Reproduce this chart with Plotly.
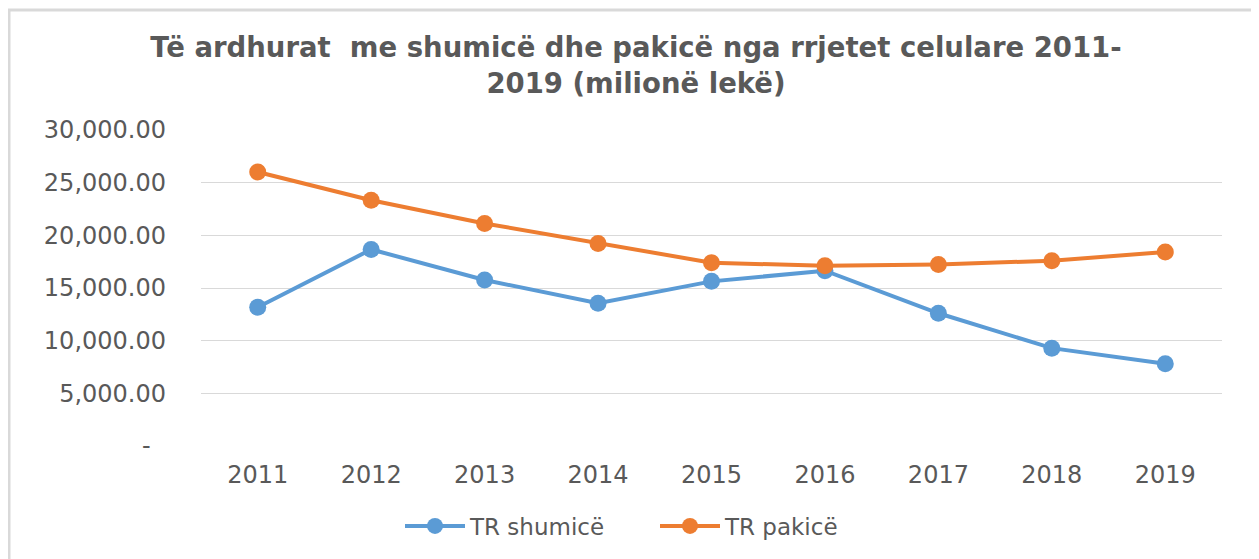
import plotly.graph_objects as go

years = ["2011", "2012", "2013", "2014", "2015", "2016", "2017", "2018", "2019"]
tr_shumice = [13170, 18660, 15760, 13550, 15630, 16640, 12600, 9290, 7800]
tr_pakice = [26010, 23330, 21130, 19230, 17400, 17110, 17240, 17590, 18410]
y_tick_vals = [0, 5000, 10000, 15000, 20000, 25000, 30000]
y_tick_text = ["-\u00a0\u00a0", "5,000.00", "10,000.00", "15,000.00",
               "20,000.00", "25,000.00", "30,000.00"]

BLUE = "#5B9BD5"
ORANGE = "#ED7D31"
FONT = "DejaVu Sans"

fig = go.Figure()
fig.add_trace(go.Scatter(x=years, y=tr_shumice, name="TR shumicë", mode="lines+markers",
                         line=dict(color=BLUE, width=4), marker=dict(size=17, color=BLUE)))
fig.add_trace(go.Scatter(x=years, y=tr_pakice, name="TR pakicë", mode="lines+markers",
                         line=dict(color=ORANGE, width=4), marker=dict(size=17, color=ORANGE)))

# page body has an 8px margin: work in screen pixels, convert to figure pixels
OFF = 8
W, H = 1259, 559
L = 201 - OFF
T = 130 - OFF
R = W - (1222 - OFF)
B = H - (446 - OFF)
pw, ph = W - L - R, H - T - B

def px2paper_x(sx):
    return (sx - OFF - L) / pw

def px2paper_y(sy):
    return (H - B - (sy - OFF)) / ph

fig.update_layout(
    width=W, height=H,
    margin=dict(l=L, r=R, t=T, b=B),
    paper_bgcolor="white", plot_bgcolor="white",
    font=dict(family=FONT, color="#595959"),
    title=dict(text="<b>Të ardhurat  me shumicë dhe pakicë nga rrjetet celulare 2011-<br>2019 (milionë lekë)</b>",
               x=(636 - OFF) / W, xanchor="center", xref="container",
               y=1 - (65 - 2 * OFF) / H, yanchor="middle", yref="container",
               font=dict(family=FONT, size=27.5, color="#595959")),
    showlegend=True,
    legend=dict(orientation="h", x=px2paper_x(400), xanchor="left",
                y=px2paper_y(526), yanchor="middle",
                font=dict(family=FONT, size=23, color="#595959"),
                entrywidth=180, entrywidthmode="pixels",
                itemwidth=60, bgcolor="rgba(0,0,0,0)"),
    xaxis=dict(type="category", range=[-0.5, 8.5], showgrid=False, zeroline=False,
               showline=False, ticks="", tickfont=dict(size=24, color="#595959"),
               ticklabelstandoff=12),
    yaxis=dict(range=[0, 30000], tickvals=y_tick_vals, ticktext=y_tick_text,
               showgrid=True, gridcolor="#D9D9D9", gridwidth=1, zeroline=False,
               showline=False, ticks="", tickfont=dict(size=24, color="#595959"),
               ticklabelstandoff=34),
    shapes=[dict(type="rect", xref="paper", yref="paper",
                 x0=px2paper_x(9), x1=px2paper_x(1257),
                 y0=px2paper_y(580), y1=px2paper_y(10),
                 line=dict(color="#D9D9D9", width=3), fillcolor="rgba(0,0,0,0)",
                 layer="below")],
)

fig.write_html("out.html")
